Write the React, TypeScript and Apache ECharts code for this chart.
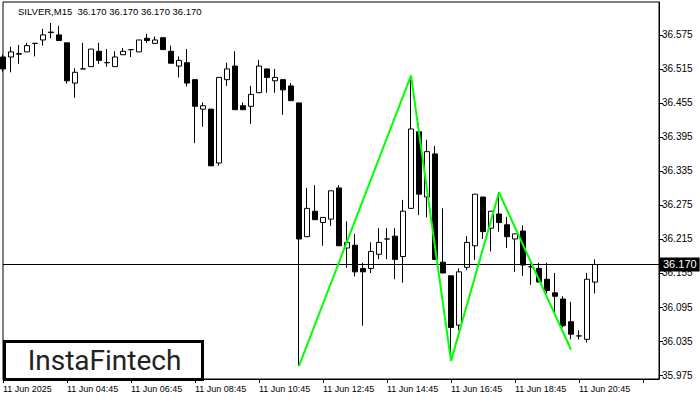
import React, { useEffect, useRef } from "react";
import * as echarts from "echarts";

const titleText = "SILVER,M15  36.170 36.170 36.170 36.170";
const xTickLabels = [
  "11 Jun 2025",
  "11 Jun 04:45",
  "11 Jun 06:45",
  "11 Jun 08:45",
  "11 Jun 10:45",
  "11 Jun 12:45",
  "11 Jun 14:45",
  "11 Jun 16:45",
  "11 Jun 18:45",
  "11 Jun 20:45",
];
const yTickValues = [35.975, 36.035, 36.095, 36.155, 36.215, 36.275, 36.335, 36.395, 36.455, 36.515, 36.575];
const lastPrice = 36.17;

// [open, close, low, high]
const candles: number[][] = [
  [36.536, 36.515, 36.51, 36.54],
  [36.536, 36.545, 36.509, 36.554],
  [36.541, 36.542, 36.524, 36.557],
  [36.545, 36.556, 36.545, 36.561],
  [36.56, 36.56, 36.537, 36.561],
  [36.566, 36.575, 36.556, 36.586],
  [36.579, 36.58, 36.569, 36.596],
  [36.575, 36.565, 36.565, 36.591],
  [36.561, 36.494, 36.489, 36.561],
  [36.49, 36.509, 36.464, 36.516],
  [36.515, 36.515, 36.515, 36.561],
  [36.519, 36.55, 36.519, 36.55],
  [36.546, 36.53, 36.524, 36.561],
  [36.526, 36.526, 36.519, 36.55],
  [36.519, 36.536, 36.519, 36.546],
  [36.54, 36.546, 36.54, 36.552],
  [36.549, 36.549, 36.536, 36.55],
  [36.545, 36.566, 36.545, 36.566],
  [36.569, 36.565, 36.561, 36.577],
  [36.56, 36.566, 36.56, 36.572],
  [36.57, 36.549, 36.549, 36.57],
  [36.546, 36.525, 36.525, 36.556],
  [36.52, 36.53, 36.5, 36.537],
  [36.526, 36.49, 36.484, 36.55],
  [36.496, 36.449, 36.384, 36.496],
  [36.444, 36.45, 36.413, 36.456],
  [36.444, 36.344, 36.344, 36.444],
  [36.349, 36.5, 36.344, 36.5],
  [36.496, 36.515, 36.485, 36.526],
  [36.52, 36.443, 36.443, 36.546],
  [36.45, 36.443, 36.443, 36.456],
  [36.449, 36.47, 36.418, 36.485],
  [36.473, 36.52, 36.473, 36.531],
  [36.515, 36.5, 36.473, 36.515],
  [36.494, 36.5, 36.473, 36.515],
  [36.496, 36.478, 36.434, 36.496],
  [36.485, 36.459, 36.459, 36.49],
  [36.455, 36.215, 35.991, 36.455],
  [36.219, 36.269, 36.219, 36.305],
  [36.264, 36.249, 36.249, 36.31],
  [36.244, 36.253, 36.203, 36.253],
  [36.25, 36.3, 36.238, 36.3],
  [36.305, 36.203, 36.203, 36.31],
  [36.199, 36.209, 36.164, 36.246],
  [36.204, 36.157, 36.149, 36.224],
  [36.163, 36.157, 36.062, 36.173],
  [36.163, 36.193, 36.155, 36.209],
  [36.188, 36.209, 36.179, 36.234],
  [36.215, 36.215, 36.179, 36.234],
  [36.22, 36.179, 36.144, 36.234],
  [36.184, 36.264, 36.138, 36.284],
  [36.269, 36.409, 36.269, 36.503],
  [36.404, 36.294, 36.257, 36.419],
  [36.289, 36.369, 36.253, 36.39],
  [36.365, 36.179, 36.179, 36.379],
  [36.174, 36.155, 36.155, 36.269],
  [36.15, 36.059, 36.0, 36.15],
  [36.063, 36.157, 36.054, 36.163],
  [36.165, 36.209, 36.16, 36.22],
  [36.203, 36.294, 36.178, 36.294],
  [36.289, 36.228, 36.215, 36.289],
  [36.234, 36.264, 36.193, 36.264],
  [36.259, 36.244, 36.228, 36.298],
  [36.24, 36.219, 36.199, 36.254],
  [36.215, 36.224, 36.157, 36.224],
  [36.229, 36.169, 36.15, 36.239],
  [36.166, 36.166, 36.134, 36.172],
  [36.163, 36.139, 36.139, 36.173],
  [36.144, 36.124, 36.119, 36.173],
  [36.12, 36.114, 36.084, 36.155],
  [36.109, 36.062, 36.059, 36.114],
  [36.069, 36.047, 36.038, 36.104],
  [36.044, 36.044, 36.038, 36.054],
  [36.038, 36.144, 36.032, 36.155],
  [36.139, 36.17, 36.119, 36.179],
];

// pattern lines: [bar index, price]
const patternPoints: number[][] = [
  [37, 35.991],
  [51, 36.503],
  [56, 36.0],
  [62, 36.297],
  [71, 36.02],
];

const barCount = 83; // visible slots on the time axis
const barsPerLabel = 8;
const categories: string[] = [];
for (let i = 0; i < barCount; i++) {
  const m = 2 * 60 + 45 + 15 * i;
  const hh = String(Math.floor(m / 60) % 24).padStart(2, "0");
  const mm = String(m % 60).padStart(2, "0");
  categories.push(`11 Jun ${hh}:${mm}`);
}

const FONT = "Liberation Sans";

export default function App() {
  const ref = useRef<HTMLDivElement>(null);
  useEffect(() => {
    if (!ref.current) return;
    const chart = echarts.init(ref.current, null, { renderer: "svg" });
    chart.setOption({
      animation: false,
      backgroundColor: "#fff",
      textStyle: { fontFamily: FONT },
      grid: {
        left: 3,
        right: 41,
        top: 2,
        bottom: 21,
        show: true,
        borderColor: "#000",
        borderWidth: 1,
        backgroundColor: "#fff",
      },
      xAxis: {
        type: "category",
        data: categories,
        boundaryGap: false,
        axisLine: { show: true, lineStyle: { color: "#000", width: 1 } },
        axisTick: {
          show: true,
          length: 4,
          interval: (i: number) => i % barsPerLabel === 0,
          lineStyle: { color: "#000" },
        },
        axisLabel: {
          interval: (i: number) => i % barsPerLabel === 0,
          formatter: (_v: string, i: number) => xTickLabels[Math.round(i / barsPerLabel)] ?? "",
          align: "left",
          fontSize: 9,
          color: "#000",
          margin: 5,
          fontFamily: FONT,
        },
        splitLine: { show: false },
      },
      yAxis: {
        type: "value",
        position: "right",
        min: 35.968,
        max: 36.633,
        scale: true,
        axisLine: { show: true, lineStyle: { color: "#000", width: 1 } },
        axisTick: { show: true, length: 4, customValues: yTickValues, lineStyle: { color: "#000" } },
        axisLabel: {
          customValues: yTickValues,
          formatter: (v: number) => v.toFixed(3),
          fontSize: 10,
          color: "#000",
          margin: 3,
          fontFamily: FONT,
        },
        splitLine: { show: false },
      },
      series: [
        {
          type: "candlestick",
          data: candles,
          barWidth: 5,
          itemStyle: {
            color: "#fff",
            color0: "#000",
            borderColor: "#000",
            borderColor0: "#000",
            borderColorDoji: "#000",
            borderWidth: 1,
          },
          markLine: {
            silent: true,
            symbol: "none",
            data: [{ yAxis: lastPrice }],
            lineStyle: { color: "#000", width: 1, type: "solid" },
            label: {
              show: true,
              position: "end",
              distance: 1,
              formatter: lastPrice.toFixed(3),
              backgroundColor: "#000",
              color: "#fff",
              padding: [2, 3, 1, 3],
              fontSize: 11,
              fontFamily: FONT,
            },
          },
        },
        {
          type: "line",
          data: patternPoints,
          showSymbol: false,
          symbol: "none",
          lineStyle: { color: "#00ff00", width: 2 },
          z: 5,
        },
      ],
      graphic: [
        {
          type: "text",
          left: 18,
          top: 6,
          style: { text: titleText, fontSize: 9.5, fill: "#000", fontFamily: FONT },
          z: 10,
        },
        {
          type: "group",
          left: 3,
          top: 340,
          z: 20,
          children: [
            {
              type: "rect",
              shape: { x: 0, y: 0, width: 198, height: 38 },
              style: { fill: "#fff", stroke: "#000", lineWidth: 3 },
            },
            {
              type: "text",
              x: 100,
              y: 19,
              style: {
                text: "InstaFintech",
                fontSize: 28,
                fontWeight: 400,
                fontFamily: "Roboto",
                fill: "#222",
                align: "center",
                verticalAlign: "middle",
              },
            },
          ],
        },
      ],
    });
    return () => chart.dispose();
  }, []);
  return <div ref={ref} style={{ position: "absolute", left: 0, top: 0, width: 700, height: 400 }} />;
}
